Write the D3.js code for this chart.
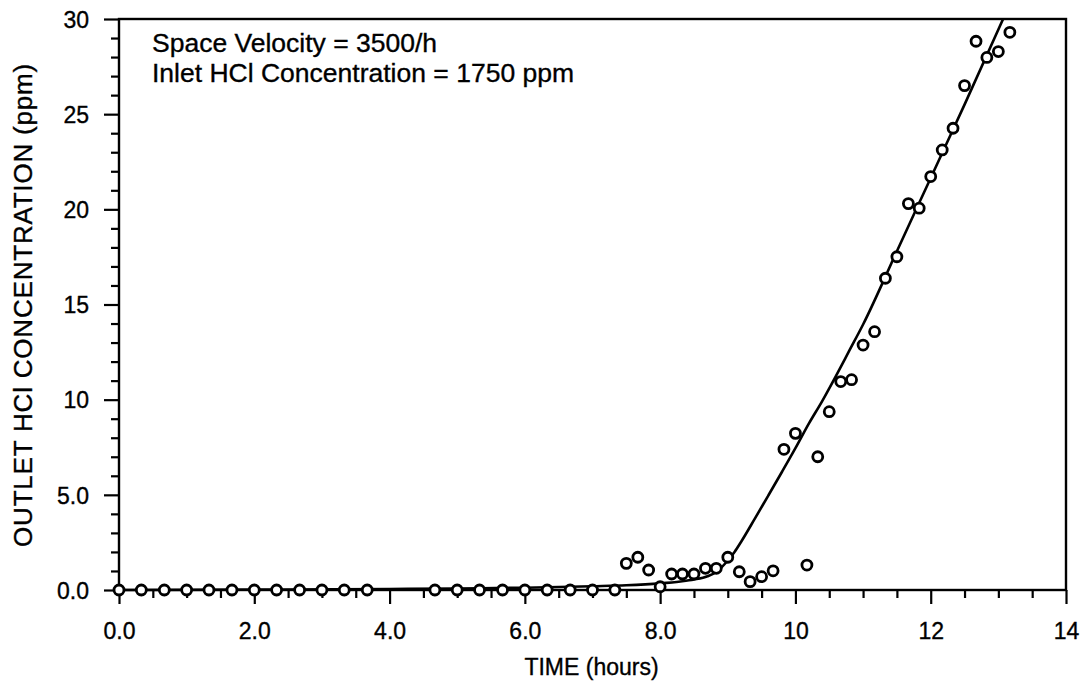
<!DOCTYPE html>
<html>
<head>
<meta charset="utf-8">
<script src="https://cdn.jsdelivr.net/npm/d3@7"></script>
<style>
  html, body { margin: 0; padding: 0; background: #fff; }
  svg { display: block; }
  text { font-family: "Liberation Sans", Arial, Helvetica, sans-serif; fill: #000; stroke: #000; stroke-width: 0.35px; }
</style>
</head>
<body>
<svg id="chart" width="1085" height="687"></svg>
<script>
// ---- data ----
const pointTimes = [0, 0.33, 0.67, 1, 1.33, 1.67, 2, 2.33, 2.67, 3, 3.33, 3.67,
  4.67, 5, 5.33, 5.67, 6, 6.33, 6.67, 7, 7.33,
  7.5, 7.67, 7.83, 8.0, 8.17, 8.33, 8.5, 8.67, 8.83, 9.0, 9.17, 9.33, 9.5, 9.67,
  9.83, 10.0, 10.17, 10.33, 10.5, 10.67, 10.83, 11.0, 11.17, 11.33, 11.5, 11.67,
  11.83, 12.0, 12.17, 12.33, 12.5, 12.67, 12.83, 13.0, 13.17];
const pointValues = [0, 0, 0, 0, 0, 0, 0, 0, 0, 0, 0, 0,
  0, 0, 0, 0, 0, 0, 0, 0, 0,
  1.40, 1.72, 1.05, 0.17, 0.84, 0.84, 0.84, 1.14, 1.14, 1.72, 0.96, 0.44, 0.70, 1.01,
  7.39, 8.23, 1.31, 7.0, 9.37, 10.95, 11.05, 12.87, 13.57, 16.38, 17.51, 20.3,
  20.06, 21.72, 23.12, 24.26, 26.5, 28.83, 27.98, 28.29, 29.3];

const fitTimes = [0, 2, 4, 5, 6, 7, 7.5, 8, 8.3, 8.5, 8.7, 8.85, 9.0, 9.1, 9.2, 9.4, 9.6,
  9.8, 10.0, 10.2, 10.4, 10.6, 10.8, 11.0, 11.5, 12.0, 12.5, 13.07];
const fitValues = [0, 0.02, 0.05, 0.08, 0.12, 0.2, 0.25, 0.35, 0.45, 0.55, 0.72, 1.0,
  1.55, 2.0, 2.55, 3.75, 4.97, 6.2, 7.45, 8.75, 9.95, 11.25, 12.6, 13.95, 17.8, 21.65, 25.5, 30];

const xTickValues = [0, 2, 4, 6, 8, 10, 12, 14];
const xTickLabels = ["0.0", "2.0", "4.0", "6.0", "8.0", "10", "12", "14"];
const yTickValues = [0, 5, 10, 15, 20, 25, 30];
const yTickLabels = ["0.0", "5.0", "10", "15", "20", "25", "30"];
const annotationLines = ["Space Velocity = 3500/h", "Inlet HCl Concentration = 1750 ppm"];
const xTitle = "TIME (hours)";
const yTitle = "OUTLET HCl CONCENTRATION (ppm)";

// ---- layout ----
const svg = d3.select("#chart");
const pLeft = 119, pRight = 1066, pTop = 19, pBottom = 590;
const x = d3.scaleLinear().domain([0, 14]).range([pLeft, pRight]);
const y = d3.scaleLinear().domain([0, 30]).range([pBottom, pTop]);

const g = svg.append("g");

// minor ticks
const xMinor = d3.range(0, 14.001, 0.5).filter(v => xTickValues.indexOf(v) < 0);
const yMinor = d3.range(0, 30.001, 1).filter(v => yTickValues.indexOf(v) < 0);

const xAxisMinor = d3.axisBottom(x).tickValues(xMinor).tickSize(8).tickFormat("");
const xAxisMajor = d3.axisBottom(x).tickValues(xTickValues).tickSize(14)
  .tickFormat((d, i) => xTickLabels[i]).tickPadding(19);
const yAxisMinor = d3.axisLeft(y).tickValues(yMinor).tickSize(8).tickFormat("");
const yAxisMajor = d3.axisLeft(y).tickValues(yTickValues).tickSize(15)
  .tickFormat((d, i) => yTickLabels[i]).tickPadding(15);

function styleAxis(sel) {
  sel.select(".domain").remove();
  sel.selectAll("line").attr("stroke", "#000").attr("stroke-width", 2.2);
  sel.selectAll("text").style("font-size", "23px").attr("fill", "#000");
}
g.append("g").attr("transform", `translate(0,${pBottom})`).call(xAxisMinor).call(styleAxis);
g.append("g").attr("transform", `translate(0,${pBottom})`).call(xAxisMajor).call(styleAxis);
g.append("g").attr("transform", `translate(${pLeft},0)`).call(yAxisMinor).call(styleAxis);
g.append("g").attr("transform", `translate(${pLeft},0)`).call(yAxisMajor).call(styleAxis)
  .selectAll("text").attr("dy", "0.36em");

// frame
g.append("rect").attr("x", pLeft).attr("y", pTop).attr("width", pRight - pLeft).attr("height", pBottom - pTop)
  .attr("fill", "none").attr("stroke", "#000").attr("stroke-width", 2.4);

// clip
svg.append("defs").append("clipPath").attr("id", "plotclip")
  .append("rect").attr("x", pLeft).attr("y", pTop - 1).attr("width", pRight - pLeft).attr("height", pBottom - pTop + 8);

// fitted line
const fitData = fitTimes.map((t, i) => [t, fitValues[i]]);
const line = d3.line().x(d => x(d[0])).y(d => y(d[1])).curve(d3.curveMonotoneX);
g.append("path").datum(fitData).attr("d", line).attr("fill", "none")
  .attr("stroke", "#000").attr("stroke-width", 2.6).attr("clip-path", "url(#plotclip)");

// points
const pts = pointTimes.map((t, i) => ({ t, v: pointValues[i] }));
g.append("g").selectAll("circle").data(pts).join("circle")
  .attr("cx", d => x(d.t)).attr("cy", d => y(d.v)).attr("r", 5)
  .attr("fill", "#fff").attr("stroke", "#000").attr("stroke-width", 2.8);

// annotation
g.append("g").selectAll("text").data(annotationLines).join("text")
  .attr("x", 152).attr("y", (d, i) => 52 + i * 30)
  .style("font-size", "26.5px").text(d => d);

// axis titles
g.append("text").attr("x", (pLeft + pRight) / 2 - 1).attr("y", 675).attr("text-anchor", "middle")
  .style("font-size", "23px").text(xTitle);
g.append("text").attr("transform", `translate(32,305) rotate(-90)`)
  .attr("text-anchor", "middle").style("font-size", "26px").style("letter-spacing", "0.8px")
  .text(yTitle);
</script>
</body>
</html>
